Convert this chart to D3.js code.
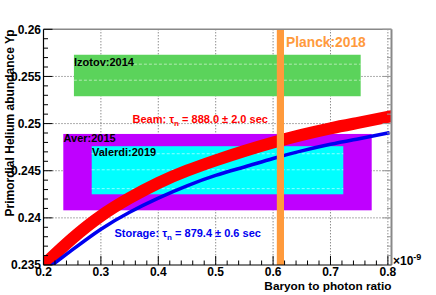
<!DOCTYPE html>
<html><head><meta charset="utf-8">
<script src="https://cdn.jsdelivr.net/npm/d3@7"></script>
<style>body{margin:0;background:#fff}svg{display:block}text{font-family:"Liberation Sans",Arial,sans-serif;font-weight:bold}</style>
</head><body><svg id="c" width="436" height="295"></svg>
<script>
// ---- data ----
const etaGrid   = [0.20,0.25,0.30,0.35,0.40,0.45,0.50,0.55,0.60,0.65,0.70,0.75,0.80];
const beamYp    = [0.2350,0.2378,0.2402,0.2421,0.2437,0.2450,0.2461,0.2471,0.2480,0.2488,0.2495,0.2501,0.2507];
const storageYp = [0.2343,0.2366,0.2388,0.2406,0.2421,0.2434,0.2445,0.2454,0.2463,0.2471,0.2478,0.2484,0.2490];
const boxNames  = ["Izotov:2014","Aver:2015","Valerdi:2019"];
const boxEta    = [[0.253,0.7526],[0.2345,0.7718],[0.284,0.7223]];
const boxYp     = [[0.2529,0.2573],[0.2408,0.2489],[0.2425,0.2476]];
const boxColors = ["#5bd35b","#bf00ff","#00ffff"];
const planckEta = [0.6065,0.619];
const xTicks    = [0.2,0.3,0.4,0.5,0.6,0.7,0.8];
const yTicks    = [0.235,0.24,0.245,0.25,0.255,0.26];

// ---- layout ----
const svg = d3.select("#c");
const L=43.5, R=391.5, T=29.3, B=265;
const x = d3.scaleLinear().domain([0.2,0.8063]).range([L,R]);
const y = d3.scaleLinear().domain([0.235,0.26]).range([B,T]);

svg.append("clipPath").attr("id","clip").append("rect")
  .attr("x",L).attr("y",T).attr("width",R-L).attr("height",B-T);
const plot = svg.append("g").attr("clip-path","url(#clip)");

// grid
const grid = plot.append("g").attr("stroke","#333").attr("stroke-width",0.8).attr("stroke-dasharray","1,2");
xTicks.slice(1).forEach(v=>grid.append("line").attr("x1",x(v)).attr("x2",x(v)).attr("y1",T).attr("y2",B));
yTicks.slice(1,-1).forEach(v=>grid.append("line").attr("y1",y(v)).attr("y2",y(v)).attr("x1",L).attr("x2",R));

// boxes
boxNames.forEach((n,i)=>{
  plot.append("rect").attr("x",x(boxEta[i][0])).attr("width",x(boxEta[i][1])-x(boxEta[i][0]))
    .attr("y",y(boxYp[i][1])).attr("height",y(boxYp[i][0])-y(boxYp[i][1])).attr("fill",boxColors[i]);
});
// faint dashed lines inside the boxes
[0.2563,0.2546].forEach(v=>plot.append("line").attr("x1",x(boxEta[0][0])).attr("x2",x(boxEta[0][1]))
  .attr("y1",y(v)).attr("y2",y(v)).attr("stroke","#c8f0c8").attr("stroke-width",0.8).attr("stroke-dasharray","3,2"));
[0.2468,0.2451,0.2431].forEach(v=>plot.append("line").attr("x1",x(boxEta[2][0])).attr("x2",x(boxEta[2][1]))
  .attr("y1",y(v)).attr("y2",y(v)).attr("stroke","#b0ffff").attr("stroke-width",0.8).attr("stroke-dasharray","3,2"));

// curves
const line = d3.line().x((d,i)=>x(etaGrid[i])).y(d=>y(d)).curve(d3.curveNatural);
plot.append("path").attr("d",line(beamYp)).attr("fill","none").attr("stroke","#ff0000")
  .attr("stroke-width",12).attr("stroke-linecap","square");
plot.append("path").attr("d",line(storageYp)).attr("fill","none").attr("stroke","#0000f0")
  .attr("stroke-width",3.5).attr("stroke-linecap","square");

// Planck band
plot.append("rect").attr("x",x(planckEta[0])).attr("width",x(planckEta[1])-x(planckEta[0]))
  .attr("y",T).attr("height",B-T).attr("fill","#ff9a3c");

// frame
svg.append("line").attr("x1",L).attr("x2",R).attr("y1",T).attr("y2",T).attr("stroke","#888").attr("stroke-width",1.5);
svg.append("line").attr("x1",R).attr("x2",R).attr("y1",T).attr("y2",B).attr("stroke","#888").attr("stroke-width",2);
svg.append("line").attr("x1",L).attr("x2",L).attr("y1",T).attr("y2",B).attr("stroke","#000").attr("stroke-width",1.2);
svg.append("line").attr("x1",L).attr("x2",R).attr("y1",B).attr("y2",B).attr("stroke","#000").attr("stroke-width",1.2);

// ticks
const tk = svg.append("g").attr("stroke","#000").attr("stroke-width",1);
const yMinor = d3.range(0.235,0.26001,0.001);
yMinor.forEach(v=>{
  const major = Math.abs(v*200 - Math.round(v*200))<1e-6;
  const len = major?9:4.5;
  tk.append("line").attr("x1",L).attr("x2",L+len).attr("y1",y(v)).attr("y2",y(v));
  tk.append("line").attr("x1",R).attr("x2",R-len).attr("y1",y(v)).attr("y2",y(v)).attr("stroke","#999");
});
const xMinor = d3.range(0.2,0.80001,0.02);
xMinor.forEach(v=>{
  const major = Math.abs(v*10 - Math.round(v*10))<1e-6;
  const len = major?9:4.5;
  tk.append("line").attr("y1",B).attr("y2",B-len).attr("x1",x(v)).attr("x2",x(v));
});

// tick labels
yTicks.forEach(v=>svg.append("text").attr("x",41).attr("y",y(v)+4.3).attr("text-anchor","end")
  .attr("font-size",12).text(d3.format("")(+v.toFixed(3))));
xTicks.forEach(v=>svg.append("text").attr("x",x(v)).attr("y",276).attr("text-anchor","middle")
  .attr("font-size",12).text(v.toFixed(1)));

// axis titles
svg.append("text").attr("x",R).attr("y",289.5).attr("text-anchor","end").attr("font-size",11.8).text("Baryon to photon ratio");
svg.append("text").attr("transform","translate(13.5,"+T+") rotate(-90)").attr("text-anchor","end")
  .attr("font-size",12).text("Primordial Helium abundance Yp");
const ex = svg.append("text").attr("x",393).attr("y",264.5).attr("font-size",12).attr("font-weight","normal");
ex.append("tspan").text("×10");
ex.append("tspan").attr("dy",-5).attr("font-size",9).text("-9");

// labels
svg.append("text").attr("x",286).attr("y",47).attr("font-size",13.8).attr("fill","#ff9a3c").text("Planck:2018");
svg.append("text").attr("x",74).attr("y",65.5).attr("font-size",11).attr("fill","#000").text(boxNames[0]);
svg.append("text").attr("x",63.5).attr("y",142).attr("font-size",11).attr("fill","#000").text(boxNames[1]);
svg.append("text").attr("x",92).attr("y",156).attr("font-size",11).attr("fill","#000").text(boxNames[2]);

function tauLabel(xp,yp,col,prefix,suffix){
  const t = svg.append("text").attr("x",xp).attr("y",yp).attr("font-size",11).attr("fill",col);
  t.append("tspan").text(prefix+" \u03c4");
  t.append("tspan").attr("dy",3).attr("font-size",8).text("n");
  t.append("tspan").attr("dy",-3).text(suffix);
}
tauLabel(132.5,123.3,"#ff0000","Beam:"," = 888.0 \u00b1 2.0 sec");
tauLabel(114.5,236.5,"#0000f0","Storage:"," = 879.4 \u00b1 0.6 sec");
</script></body></html>
